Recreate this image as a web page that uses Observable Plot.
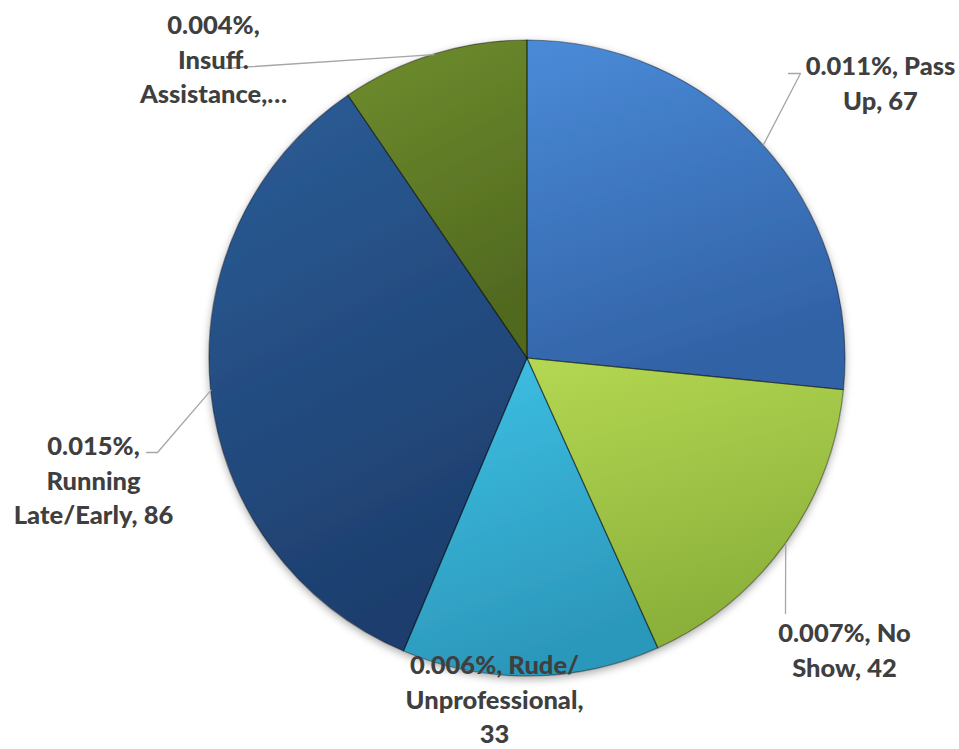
<!DOCTYPE html>
<html><head><meta charset="utf-8">
<script src="https://cdn.jsdelivr.net/npm/d3@7"></script>
<script src="https://cdn.jsdelivr.net/npm/@observablehq/plot@0.6"></script>
<style>body{margin:0;background:#fff;overflow:hidden}</style>
</head><body><div id="chart"></div>
<script>
// ---- data ----
const categories = ["Pass Up", "No Show", "Rude/ Unprofessional", "Running Late/Early", "Insuff. Assistance"];
const counts = [67, 42, 33, 86, 24];
const percents = ["0.011%", "0.007%", "0.006%", "0.015%", "0.004%"];
const labelLines = [
  ["0.011%, Pass", "Up, 67"],
  ["0.007%, No", "Show, 42"],
  ["0.006%, Rude/", "Unprofessional,", "33"],
  ["0.015%,", "Running", "Late/Early, 86"],
  ["0.004%,", "Insuff.", "Assistance,…"]
];
const colorTop = ["#4a8bd8", "#b4d852", "#3ec2e6", "#2c5d98", "#6f8e2e"];
const colorBottom = ["#3262a6", "#8bb03a", "#2c98bb", "#1d3e6d", "#51691f"];

// ---- layout (pixels) ----
const W = 959, H = 749, CX = 527, CY = 358, R = 318;
const toX = px => (px - CX) / R, toY = py => (CY - py) / R;
// label block centres and leader elbows / ends (pixels)
const labelPos = [[880, 81], [844, 648], [494, 697], [93, 478], [213, 57]];
const leaderPts = [
  [[800, 73], [788, 73]],
  [[785, 613]],
  null,
  [[157, 452], [146, 452]],
  [[223, 68]]
];

const arcs = d3.pie().sort(null).value(d => d)(counts);

const labelData = labelLines.map((l, i) => ({
  text: l.join("\n"), x: toX(labelPos[i][0]), y: toY(labelPos[i][1])
}));
const leaderData = [];
arcs.forEach((a, i) => {
  if (!leaderPts[i]) return;
  const m = (a.startAngle + a.endAngle) / 2;
  leaderData.push({id: i, x: Math.sin(m), y: Math.cos(m)});
  leaderPts[i].forEach(p => leaderData.push({id: i, x: toX(p[0]), y: toY(p[1])}));
});

function pieMark(index, scales) {
  const {x, y} = scales;
  const cx = x(0), cy = y(0), r = x(1) - x(0);
  const root = d3.create("svg:g");
  const defs = root.append("defs");
  const f = defs.append("filter").attr("id", "pshadow").attr("x", "-10%").attr("y", "-10%").attr("width", "120%").attr("height", "125%");
  f.append("feDropShadow").attr("dx", 0).attr("dy", 3).attr("stdDeviation", 4).attr("flood-color", "#000").attr("flood-opacity", 0.35);
  arcs.forEach((a, i) => {
    const g = defs.append("linearGradient").attr("id", "pg" + i).attr("x1", 0).attr("y1", 0).attr("x2", 0.3).attr("y2", 1);
    g.append("stop").attr("offset", "0%").attr("stop-color", colorTop[i]);
    g.append("stop").attr("offset", "100%").attr("stop-color", colorBottom[i]);
    defs.append("clipPath").attr("id", "pc" + i).append("path")
      .attr("d", d3.arc().innerRadius(0).outerRadius(r)(a)).attr("transform", `translate(${cx},${cy})`);
  });
  const arc = d3.arc().innerRadius(0).outerRadius(r);
  const gg = root.append("g").attr("transform", `translate(${cx},${cy})`).attr("filter", "url(#pshadow)");
  gg.selectAll("path.s").data(arcs).join("path").attr("class", "s")
    .attr("d", arc).attr("fill", (d, i) => `url(#pg${i})`);
  // bevel-like inner edge
  const hb = root.append("g");
  arcs.forEach((a, i) => {
    hb.append("path").attr("d", arc(a)).attr("transform", `translate(${cx},${cy})`)
      .attr("clip-path", `url(#pc${i})`).attr("fill", "none")
      .attr("stroke", "rgba(255,255,255,0.22)").attr("stroke-width", 8);
    hb.append("path").attr("d", arc(a)).attr("transform", `translate(${cx},${cy})`)
      .attr("fill", "none").attr("stroke", "rgba(0,0,0,0.4)").attr("stroke-width", 1.2);
  });
  return root.node();
}

const chart = Plot.plot({
  width: W, height: H, margin: 0,
  x: {domain: [toX(0), toX(W)], axis: null},
  y: {domain: [toY(H), toY(0)], axis: null},
  style: {fontFamily: "Lato, sans-serif", background: "#fff"},
  marks: [
    pieMark,
    Plot.line(leaderData, {x: "x", y: "y", z: "id", stroke: "#a6a6a6", strokeWidth: 1.3}),
    Plot.text(labelData, {x: "x", y: "y", text: "text", fontSize: 25.5, fontWeight: 900,
      fill: "#3f3f3f", lineHeight: 1.36, textAnchor: "middle"})
  ]
});
document.getElementById("chart").appendChild(chart);
</script>
</body></html>
